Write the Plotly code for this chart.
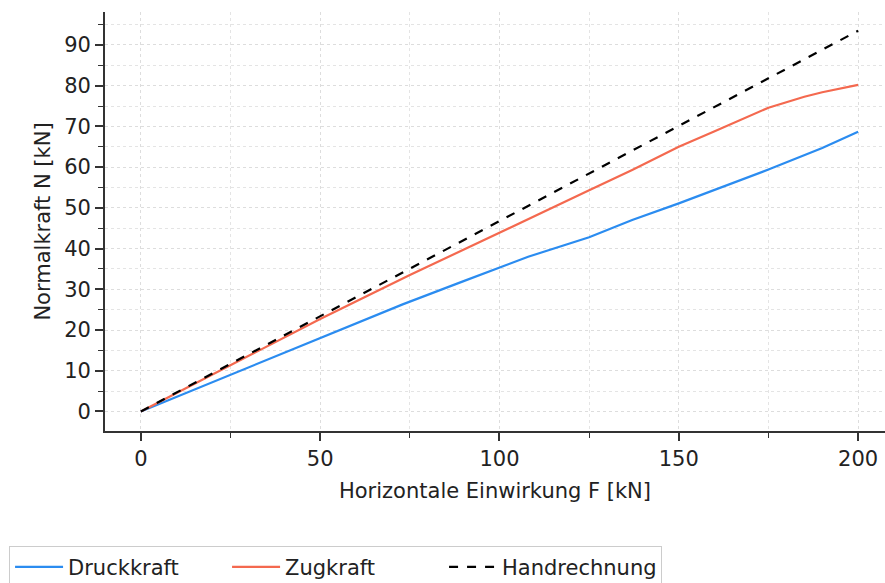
import plotly.graph_objects as go

# Data
druck_x = [0, 25, 50, 73, 90, 108, 125, 137, 150, 162, 175, 190, 200]
druck_y = [0, 9.0, 18.0, 26.3, 32.0, 38.0, 42.8, 47.0, 51.1, 55.0, 59.4, 64.7, 68.7]

zug_x = [0, 25, 50, 75, 100, 125, 137, 150, 160, 175, 185, 190, 200]
zug_y = [0, 11.4, 22.7, 33.5, 43.8, 54.3, 59.3, 65.0, 68.8, 74.6, 77.3, 78.4, 80.2]

hand_x = [0, 200]
hand_y = [0, 93.5]

names = ["Druckkraft", "Zugkraft", "Handrechnung"]

FONT = "DejaVu Sans"
FS = 21

fig = go.Figure()
fig.add_trace(go.Scatter(x=druck_x, y=druck_y, mode="lines", name=names[0],
                         line=dict(color="#2b8cf0", width=2.2)))
fig.add_trace(go.Scatter(x=zug_x, y=zug_y, mode="lines", name=names[1],
                         line=dict(color="#f4694f", width=2.2)))
fig.add_trace(go.Scatter(x=hand_x, y=hand_y, mode="lines", name=names[2],
                         line=dict(color="black", width=2.2, dash="dash")))

axis_common = dict(
    showline=True, linecolor="#333333", linewidth=1.8,
    ticks="outside", ticklen=8, tickwidth=1.5, tickcolor="#333333",
    showgrid=True, gridcolor="#dddddd", gridwidth=1, griddash="dot",
    zeroline=False,
    tickfont=dict(family=FONT, size=FS, color="#222222"),
    mirror=False,
)

fig.update_xaxes(
    **axis_common,
    range=[-10, 207.5], tick0=0, dtick=50,
    minor=dict(dtick=25, tick0=0, ticks="outside", ticklen=5, tickwidth=1.2,
               tickcolor="#333333", showgrid=True, gridcolor="#e4e4e4", griddash="dot"),
    title=dict(text="Horizontale Einwirkung F [kN]", font=dict(family=FONT, size=FS, color="#222222"),
               standoff=13),
)
fig.update_yaxes(
    **axis_common,
    range=[-4.8, 98.1], tick0=0, dtick=10,
    minor=dict(dtick=5, tick0=0, ticks="outside", ticklen=5, tickwidth=1.2,
               tickcolor="#333333", showgrid=True, gridcolor="#e4e4e4", griddash="dot"),
    title=dict(text="Normalkraft N [kN]", font=dict(family=FONT, size=FS, color="#222222"),
               standoff=8),
)

fig.update_layout(
    width=885, height=583,
    margin=dict(l=105, r=0, t=12, b=152, autoexpand=False),
    paper_bgcolor="white", plot_bgcolor="white",
    font=dict(family=FONT, size=FS, color="#222222"),
    legend=dict(
        orientation="h", x=-0.123, y=-0.274, xanchor="left", yanchor="top",
        bordercolor="#cccccc", borderwidth=1, bgcolor="white",
        font=dict(family=FONT, size=FS, color="#222222"),
        itemwidth=48, entrywidth=154, entrywidthmode="pixels",
    ),
    showlegend=True,
)

fig.write_html("out.html")
